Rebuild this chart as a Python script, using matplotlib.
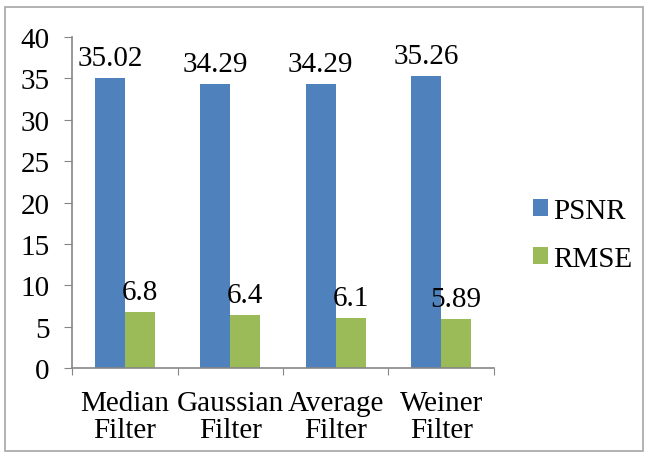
import matplotlib.pyplot as plt
from matplotlib.patches import Rectangle
import numpy as np

plt.rcParams['font.family'] = ['Liberation Serif', 'DejaVu Serif']

categories = ['Median\nFilter', 'Gaussian\nFilter', 'Average\nFilter', 'Weiner\nFilter']
psnr = [35.02, 34.29, 34.29, 35.26]
rmse = [6.8, 6.4, 6.1, 5.89]
psnr_labels = ['35.02', '34.29', '34.29', '35.26']
rmse_labels = ['6.8', '6.4', '6.1', '5.89']

fs = 21

fig = plt.figure(figsize=(6.49, 4.60), dpi=100)
ax = fig.add_axes([72 / 649, 1 - 369 / 460, (494 - 72) / 649, (369 - 38) / 460])

x = np.arange(len(categories))
w = 0.284
b1 = ax.bar(x - w / 2, psnr, w, color='#4F81BD', label='PSNR')
b2 = ax.bar(x + w / 2, rmse, w, color='#9BBB59', label='RMSE')

# value labels above the bars
for bars, labels in [(b1, psnr_labels), (b2, rmse_labels)]:
    for bar, txt in zip(bars, labels):
        ax.annotate(txt, (bar.get_x() + bar.get_width() / 2, bar.get_height()),
                    xytext=(0, 5), textcoords='offset points',
                    ha='center', va='bottom', fontsize=fs)

ax.set_xlim(-0.5, len(categories) - 0.5)
ax.set_ylim(0, 40)
ax.set_yticks(range(0, 41, 5))
ax.set_xticks(np.arange(-0.5, len(categories), 1.0))
ax.set_xticklabels([])
ax.set_xticks(x, minor=True)
ax.set_xticklabels(categories, minor=True, fontsize=fs, linespacing=1.05)
ax.tick_params(axis='x', which='minor', length=0, pad=16)
ax.tick_params(axis='x', which='major', length=5, color='#868686')
ax.tick_params(axis='y', length=6, color='#868686', labelsize=fs, pad=10)

for s in ['top', 'right']:
    ax.spines[s].set_visible(False)
for s in ['left', 'bottom']:
    ax.spines[s].set_color('#868686')
    ax.spines[s].set_linewidth(1.2)

ax.legend(loc='center left', bbox_to_anchor=(533 / 649, 1 - 236 / 460),
          bbox_transform=fig.transFigure, frameon=False, fontsize=fs,
          borderpad=0, borderaxespad=0,
          handlelength=0.5, handleheight=0.5, handletextpad=0.2, labelspacing=0.75)

fig.patches.append(Rectangle((5 / 649, 8 / 460), 638 / 649, 444 / 460,
                             transform=fig.transFigure, fill=False,
                             edgecolor='#A6A6A6', linewidth=1.2))

fig.savefig('out.png', dpi=100)
